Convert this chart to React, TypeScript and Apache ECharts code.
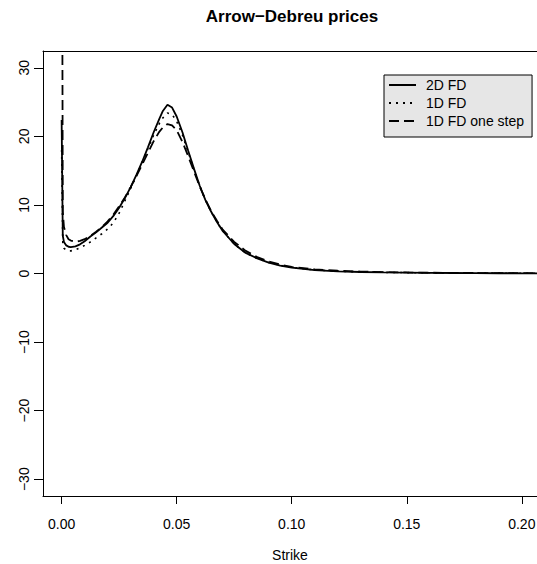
import React, { useEffect, useRef } from "react";
import * as echarts from "echarts";

const strike = [
  0, 0.0005, 0.001, 0.002, 0.003, 0.004, 0.006, 0.008, 0.01, 0.0125, 0.015, 0.0175, 0.02,
  0.0225, 0.025, 0.0275, 0.03, 0.0325, 0.035, 0.0375, 0.04, 0.0425, 0.044, 0.046, 0.048,
  0.05, 0.0525, 0.055, 0.0575, 0.06, 0.0625, 0.065, 0.0675, 0.07, 0.075, 0.08, 0.085, 0.09,
  0.095, 0.1, 0.11, 0.12, 0.13, 0.14, 0.15, 0.16, 0.17, 0.18, 0.19, 0.2, 0.21,
];

const fd2d = [
  22.4, 5.5, 4.6, 4.1, 3.9, 3.85, 3.95, 4.25, 4.7, 5.4, 6.0, 6.7, 7.4,
  8.4, 9.6, 11.0, 12.6, 14.4, 16.3, 18.4, 20.6, 22.6, 23.7, 24.6, 24.2,
  22.9, 20.6, 17.9, 15.3, 12.8, 10.7, 9.0, 7.5, 6.2, 4.3, 3.0, 2.2, 1.6,
  1.15, 0.85, 0.5, 0.32, 0.22, 0.16, 0.12, 0.09, 0.07, 0.05, 0.04, 0.03, 0.02,
];

const fd1d = [
  18.0, 4.5, 3.7, 3.4, 3.3, 3.3, 3.45, 3.75, 4.1, 4.6, 5.2, 5.8, 6.5,
  7.4, 8.8, 10.6, 12.4, 14.3, 16.2, 18.2, 20.2, 21.9, 22.7, 23.4, 23.2,
  22.2, 20.2, 17.7, 15.2, 12.8, 10.7, 9.0, 7.5, 6.2, 4.3, 3.0, 2.2, 1.6,
  1.18, 0.88, 0.52, 0.34, 0.23, 0.17, 0.13, 0.1, 0.08, 0.06, 0.05, 0.04, 0.03,
];

const fd1dOneStep = [
  80, 9.0, 6.8, 5.6, 5.0, 4.8, 4.65, 4.75, 5.0, 5.5, 6.1, 6.8, 7.6,
  8.6, 9.8, 11.1, 12.6, 14.2, 15.9, 17.6, 19.3, 20.7, 21.3, 21.8, 21.6,
  20.9, 19.2, 17.1, 14.9, 12.7, 10.8, 9.1, 7.7, 6.4, 4.6, 3.3, 2.4, 1.75,
  1.3, 0.97, 0.6, 0.4, 0.28, 0.2, 0.15, 0.11, 0.09, 0.07, 0.06, 0.05, 0.04,
];

const xTicks = [0, 0.05, 0.1, 0.15, 0.2];
const yTicks = [-30, -20, -10, 0, 10, 20, 30];

const FONT = "'Liberation Sans', Arial, Helvetica, sans-serif";

const fmtY = (v: number) => (v < 0 ? "\u2212" + Math.abs(v) : String(v));

export default function App() {
  const ref = useRef<HTMLDivElement>(null);

  useEffect(() => {
    if (!ref.current) return;
    const chart = echarts.init(ref.current, null, { renderer: "svg" });
    const pairs = (ys: number[]) => strike.map((x, i) => [x, ys[i]]);
    const xMin = -0.0081;
    const xMax = 0.2066;

    chart.setOption({
      animation: false,
      backgroundColor: "#ffffff",
      title: {
        text: "Arrow\u2212Debreu prices",
        left: 292,
        top: 8,
        padding: 0,
        textAlign: "center",
        textStyle: { fontFamily: FONT, fontSize: 17, fontWeight: "bold", color: "#000" },
      },
      grid: {
        left: 43,
        right: 0,
        top: 51,
        bottom: 68,
        containLabel: false,
        outerBoundsMode: "none",
      },
      legend: {
        left: 384,
        top: 75,
        orient: "vertical",
        backgroundColor: "#e6e6e6",
        borderColor: "#000",
        borderWidth: 1,
        borderRadius: 0,
        padding: [3, 8, 9, 4],
        itemWidth: 27,
        itemHeight: 14,
        itemGap: 4,
        itemStyle: { opacity: 0 },
        textStyle: { fontFamily: FONT, fontSize: 14, color: "#000", padding: [0, 0, 0, 5] },
        data: ["2D FD", "1D FD", "1D FD one step"],
      },
      xAxis: [
        {
          type: "value",
          min: xMin,
          max: xMax,
          position: "bottom",
          name: "Strike",
          nameLocation: "middle",
          nameGap: 52,
          nameTextStyle: { fontFamily: FONT, fontSize: 14, color: "#000" },
          axisLine: { show: true, onZero: false, lineStyle: { color: "#000", width: 1 } },
          axisTick: { show: true, length: 8, customValues: xTicks, lineStyle: { color: "#000" } },
          axisLabel: {
            show: true,
            customValues: xTicks,
            margin: 21,
            fontFamily: FONT,
            fontSize: 14,
            color: "#000",
            formatter: (v: number) => v.toFixed(2),
          },
          splitLine: { show: false },
        },
        {
          type: "value",
          min: xMin,
          max: xMax,
          position: "top",
          axisLine: { show: true, onZero: false, lineStyle: { color: "#000", width: 1 } },
          axisTick: { show: false },
          axisLabel: { show: false },
          splitLine: { show: false },
        },
      ],
      yAxis: {
        type: "value",
        min: -32.45,
        max: 32.45,
        axisLine: { show: true, onZero: false, lineStyle: { color: "#000", width: 1 } },
        axisTick: { show: true, length: 9, customValues: yTicks, lineStyle: { color: "#000" } },
        axisLabel: {
          show: true,
          customValues: yTicks,
          rotate: 90,
          margin: 12,
          fontFamily: FONT,
          fontSize: 14,
          color: "#000",
          formatter: fmtY,
        },
        splitLine: { show: false },
      },
      series: [
        {
          name: "2D FD",
          type: "line",
          data: pairs(fd2d),
          symbol: "none",
          clip: true,
          lineStyle: { color: "#000", width: 1.8, type: "solid" },
        },
        {
          name: "1D FD",
          type: "line",
          data: pairs(fd1d),
          symbol: "none",
          clip: true,
          lineStyle: { color: "#000", width: 1.6, type: [2, 5] },
        },
        {
          name: "1D FD one step",
          type: "line",
          data: pairs(fd1dOneStep),
          symbol: "none",
          clip: true,
          lineStyle: { color: "#000", width: 1.8, type: [10, 5] },
        },
      ],
    });
    return () => chart.dispose();
  }, []);

  return (
    <div
      ref={ref}
      style={{ position: "absolute", left: 0, top: 0, width: 537, height: 564 }}
    />
  );
}
